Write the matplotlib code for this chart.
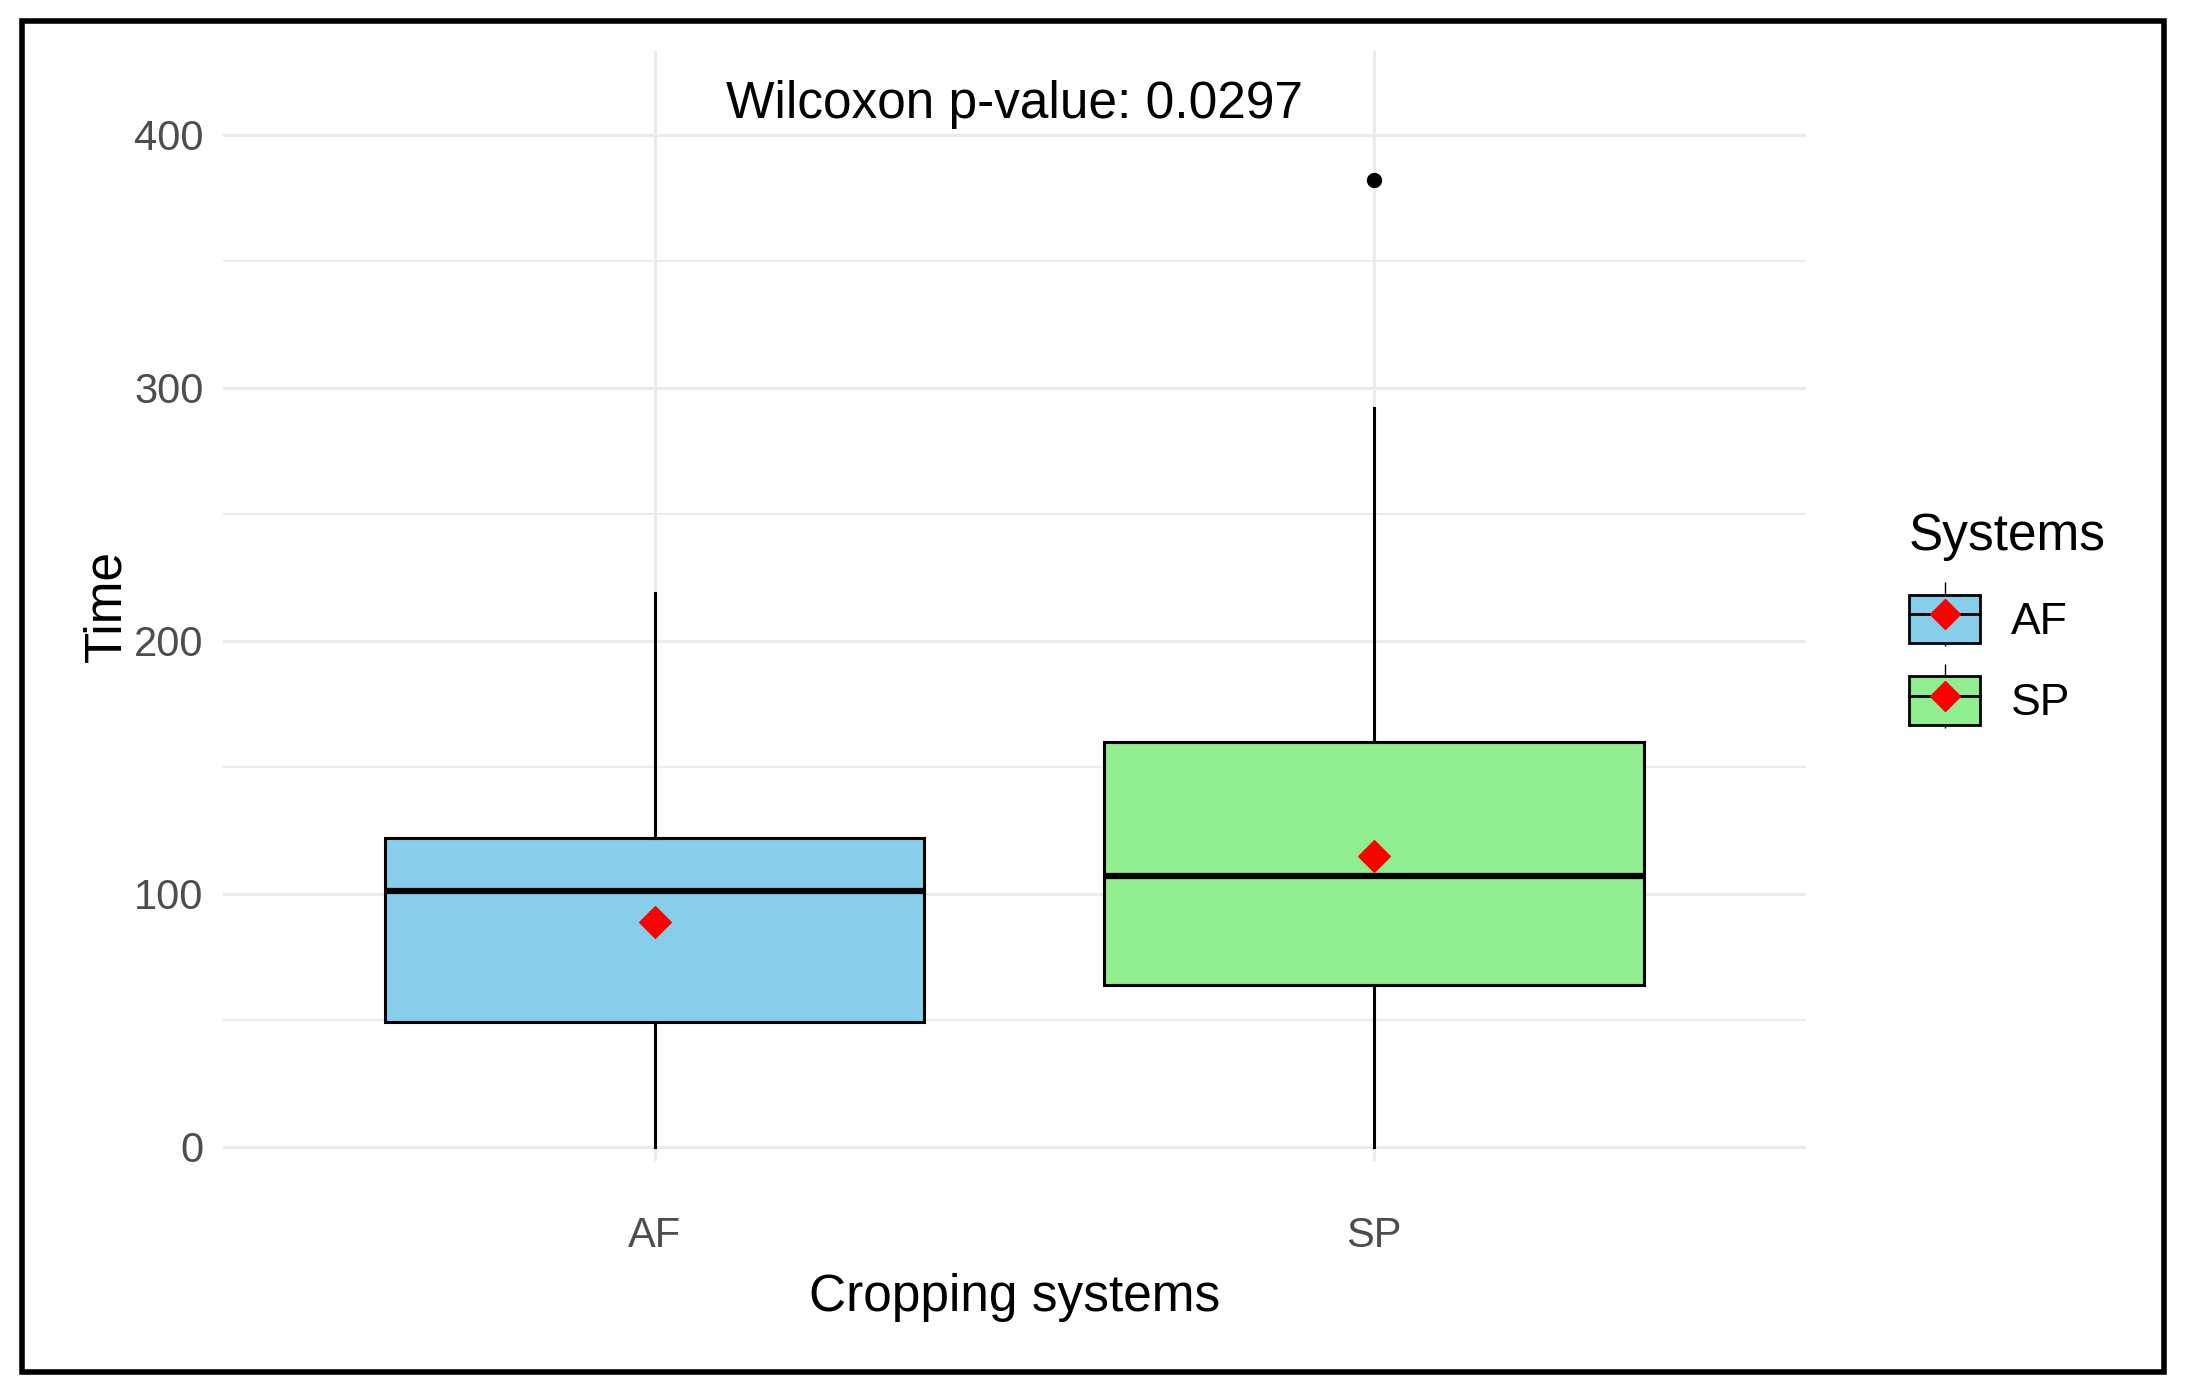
import matplotlib
matplotlib.use("Agg")
from matplotlib import pyplot as plt
from matplotlib.patches import Patch, Rectangle
from matplotlib.lines import Line2D

plt.rcParams["font.family"] = "Liberation Sans"

# values
systems = ["AF", "SP"]
colors = ["#87CEEB", "#90EE90"]
whislo = [0, 0]
q1 = [49.5, 64]
med = [101, 107]
q3 = [122, 160]
whishi = [219, 292]
means = [89, 115]
fliers = [[], [382]]
yticks = [0, 100, 200, 300, 400]
pvalue = "0.0297"

fig = plt.figure(figsize=(21.86, 13.9), dpi=100)
ax = fig.add_axes([0.102, 0.165, 0.724, 0.798])

stats = []
for i, s in enumerate(systems):
    stats.append(dict(label=s, whislo=whislo[i], q1=q1[i], med=med[i],
                      q3=q3[i], whishi=whishi[i], fliers=fliers[i]))

# gridlines first (ggplot minimal)
for y in range(0, 401, 50):
    ax.axhline(y, color="#ebebeb", lw=2.2 if y % 100 == 0 else 1.5, zorder=0)
for x in [1, 2]:
    ax.axvline(x, color="#ebebeb", lw=2.2, zorder=0)

bp = ax.bxp(stats, positions=[1, 2], widths=0.75, patch_artist=True,
            showcaps=False,
            boxprops=dict(lw=2.2, edgecolor="black"),
            medianprops=dict(color="black", lw=4.5),
            whiskerprops=dict(color="black", lw=2.2),
            flierprops=dict(marker="o", markerfacecolor="black",
                            markeredgecolor="black", markersize=10))
for patch, c in zip(bp["boxes"], colors):
    patch.set_facecolor(c)

ax.scatter([1, 2], means, marker="D", color="red", s=260, zorder=5)

ax.text(1.5, 412, "Wilcoxon p-value: " + pvalue, ha="center", va="center",
        fontsize=37)

ax.set_xlim(0.4, 2.6)
ax.set_ylim(-5.5, 433)
ax.set_yticks(yticks)
ax.set_xticks([1, 2])
ax.set_xticklabels(systems)
ax.tick_params(axis="x", length=0, labelsize=30, labelcolor="#4d4d4d", pad=40)
ax.tick_params(axis="y", length=0, labelsize=30, labelcolor="#4d4d4d", pad=14)
for sp in ax.spines.values():
    sp.set_visible(False)
ax.set_xlabel("Cropping systems", fontsize=37, labelpad=12)
ax.set_ylabel("Time", fontsize=37, labelpad=2)

handles = []
for c in colors:
    handles.append((Line2D([], [], color="black", marker="|", markersize=46, lw=0),
                    Patch(facecolor=c, edgecolor="black", lw=2),
                    Line2D([], [], color="black", lw=2),
                    Line2D([], [], marker="D", color="red", lw=0, markersize=15)))
leg = fig.legend(handles, systems, title="Systems", loc="center left",
                 bbox_to_anchor=(0.855, 0.555), frameon=False, fontsize=32,
                 title_fontsize=37, handlelength=1.6, handleheight=1.3,
                 labelspacing=0.75, handletextpad=0.7)
leg._legend_box.align = "left"

fig.patches.append(Rectangle((0.01, 0.013), 0.98, 0.972, transform=fig.transFigure,
                             fill=False, edgecolor="black", lw=4))

plt.savefig("out.png", dpi=100)
